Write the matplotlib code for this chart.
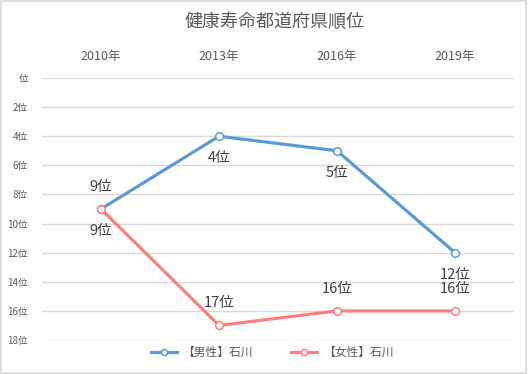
import numpy as np
import matplotlib.pyplot as plt
from matplotlib.patches import Rectangle

# Data
years = ["2010年", "2013年", "2016年", "2019年"]
male_rank = [9, 4, 5, 12]
female_rank = [9, 17, 16, 16]
y_ticks = [0, 2, 4, 6, 8, 10, 12, 14, 16, 18]
y_tick_labels = ["位", "2位", "4位", "6位", "8位", "10位", "12位", "14位", "16位", "18位"]

plt.rcParams['font.family'] = ['Noto Sans CJK JP', 'DejaVu Sans']

blue = "#5B9BD5"
red = "#FF7C80"
grid_color = "#D9D9D9"
text_color = "#595959"
label_color = "#404040"

fig = plt.figure(figsize=(5.28, 3.74), dpi=100)
ax = fig.add_axes([0.0795, 0.0909, 0.894, 0.7005])

x = np.arange(len(years))

ax.plot(x, male_rank, color=blue, linewidth=2.3, marker="o", markersize=5.5,
        markerfacecolor="white", markeredgecolor=blue, markeredgewidth=1.1,
        label="【男性】石川", zorder=3)
ax.plot(x, female_rank, color=red, linewidth=2.3, marker="o", markersize=5.5,
        markerfacecolor="white", markeredgecolor=red, markeredgewidth=1.1,
        label="【女性】石川", zorder=3)

# Data labels: male below, female above
for xi, v in zip(x, male_rank):
    ax.annotate(f"{v}位", (xi, v), xytext=(0, -16), textcoords="offset points",
                ha="center", va="center", fontsize=10.5, color=label_color)
for xi, v in zip(x, female_rank):
    ax.annotate(f"{v}位", (xi, v), xytext=(0, 16), textcoords="offset points",
                ha="center", va="center", fontsize=10.5, color=label_color)

ax.set_xlim(-0.5, len(years) - 0.5)
ax.set_ylim(18, 0)
ax.set_yticks(y_ticks)
ax.set_yticklabels(y_tick_labels, fontsize=7, color=text_color)
ax.yaxis.grid(True, color=grid_color, linewidth=1.0)
ax.set_axisbelow(True)

ax.xaxis.tick_top()
ax.set_xticks(x)
ax.set_xticklabels(years, fontsize=9, color=text_color)
ax.tick_params(axis="y", length=0, pad=10)
ax.tick_params(axis="x", length=0, pad=11)

for s in ax.spines.values():
    s.set_visible(False)

fig.suptitle("健康寿命都道府県順位", x=0.52, y=0.965, fontsize=13, color=text_color)

fig.legend(loc="center", bbox_to_anchor=(0.515, 0.058), ncol=2, frameon=False,
           fontsize=8.5, handlelength=2.2, handletextpad=0.5, columnspacing=3.2,
           labelcolor=text_color, markerscale=0.8)

# Outer border
fig.patches.append(Rectangle((0.002, 0.003), 0.995, 0.994, transform=fig.transFigure,
                             fill=False, edgecolor=grid_color, linewidth=1.2))

fig.savefig("out.png", dpi=100)
plt.close()
